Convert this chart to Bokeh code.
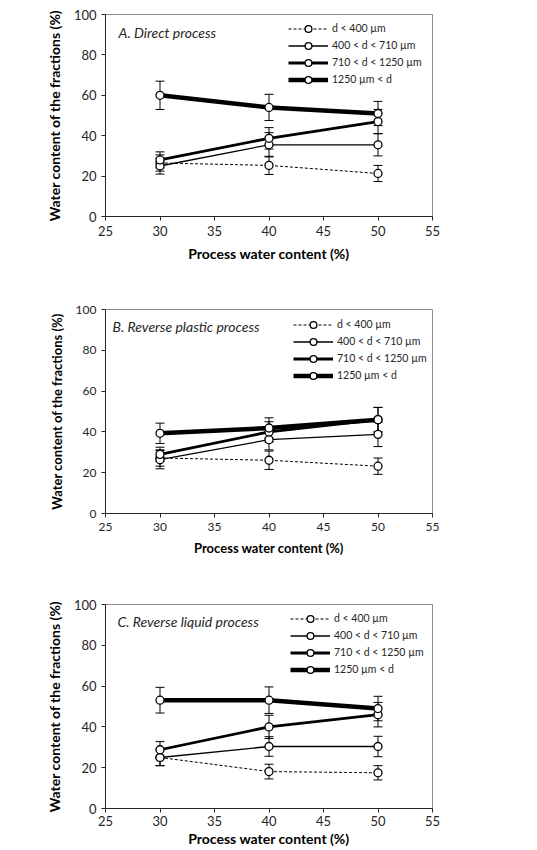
from bokeh.plotting import figure
from bokeh.layouts import column
from bokeh.models import (ColumnDataSource, Whisker, TeeHead, Legend, LegendItem,
                          Label, Range1d, FixedTicker)
from bokeh.embed import file_html
from bokeh.resources import INLINE

# Process water content (%) at which the three processes were run
process_water = [30, 40, 50]
x_ticks = [25, 30, 35, 40, 45, 50, 55]
y_ticks = [0, 20, 40, 60, 80, 100]

fraction_labels = ["d < 400 µm", "400 < d < 710 µm", "710 < d < 1250 µm", "1250 µm < d"]

# A. Direct process: mean water content of each size fraction (%) and its error
direct_d400 = [26.5, 25.3, 21.3]
direct_d400_err = [4.0, 4.5, 4.0]
direct_d400_710 = [25.0, 35.5, 35.5]
direct_d400_710_err = [4.0, 6.0, 5.5]
direct_d710_1250 = [28.0, 38.7, 47.0]
direct_d710_1250_err = [4.0, 5.3, 6.0]
direct_d1250 = [60.0, 54.0, 51.0]
direct_d1250_err = [7.0, 6.5, 6.0]

# B. Reverse plastic process
plastic_d400 = [27.2, 26.1, 23.2]
plastic_d400_err = [4.0, 4.5, 4.0]
plastic_d400_710 = [26.4, 36.2, 38.8]
plastic_d400_710_err = [4.5, 5.0, 6.0]
plastic_d710_1250 = [29.0, 40.0, 46.0]
plastic_d710_1250_err = [3.5, 5.0, 6.0]
plastic_d1250 = [39.3, 41.9, 46.0]
plastic_d1250_err = [5.0, 5.0, 6.0]

# C. Reverse liquid process
liquid_d400 = [25.0, 18.1, 17.5]
liquid_d400_err = [4.0, 3.6, 3.5]
liquid_d400_710 = [25.0, 30.4, 30.4]
liquid_d400_710_err = [4.0, 4.8, 5.0]
liquid_d710_1250 = [28.8, 40.0, 46.0]
liquid_d710_1250_err = [4.0, 5.7, 6.0]
liquid_d1250 = [53.1, 53.1, 49.0]
liquid_d1250_err = [6.3, 6.5, 6.0]

# line style per fraction: (width, dash)
line_styles = [(1.0, "3 2"), (1.3, "solid"), (2.8, "solid"), (4.5, "solid")]

FONT = "Lato"


def make_panel(title, series, height, top, bottom, tick_size, label_size,
               legend_x, legend_y, title_xy, x_standoffs=(5, 6)):
    p = figure(width=537, height=height, output_backend="svg", toolbar_location=None,
               x_range=Range1d(25, 55), y_range=Range1d(0, 100),
               min_border_left=105, min_border_right=105,
               min_border_top=top, min_border_bottom=bottom,
               background_fill_color="white", border_fill_color="white")
    p.grid.visible = False
    p.outline_line_color = "#8c8c8c"
    p.outline_line_width = 1

    for ax in (p.xaxis[0], p.yaxis[0]):
        ax.axis_line_color = "#262626"
        ax.major_tick_line_color = "#262626"
        ax.major_tick_out = 4
        ax.major_tick_in = 0
        ax.minor_tick_line_color = None
        ax.major_label_text_font = FONT
        ax.major_label_text_font_size = tick_size
        ax.major_label_text_color = "#262626"
        ax.axis_label_text_font = FONT
        ax.axis_label_text_font_style = "bold"
        ax.axis_label_text_font_size = label_size
        ax.axis_label_text_color = "black"
    p.xaxis.ticker = FixedTicker(ticks=x_ticks)
    p.yaxis.ticker = FixedTicker(ticks=y_ticks)
    p.xaxis.major_label_standoff = x_standoffs[0]
    p.yaxis.major_label_standoff = 5
    p.yaxis.axis_label = "Water content of the fractions (%)"
    p.yaxis.axis_label_standoff = 8
    p.xaxis.axis_label = "Process water content (%)"
    p.xaxis.axis_label_standoff = x_standoffs[1]

    items = []
    for label, (vals, errs), (lw, dash) in zip(fraction_labels, series, line_styles):
        src = ColumnDataSource(dict(
            x=process_water, y=vals,
            lower=[v - e for v, e in zip(vals, errs)],
            upper=[v + e for v, e in zip(vals, errs)]))
        w = Whisker(source=src, base="x", lower="lower", upper="upper",
                    line_color="black", line_width=1, level="underlay",
                    upper_head=TeeHead(size=9, line_color="black", line_width=1),
                    lower_head=TeeHead(size=9, line_color="black", line_width=1))
        p.add_layout(w)
        lr = p.line("x", "y", source=src, line_color="black", line_width=lw,
                    line_dash=dash)
        sr = p.scatter("x", "y", source=src, marker="circle", size=8,
                       fill_color="white", line_color="black", line_width=1.3)
        items.append(LegendItem(label=label, renderers=[lr, sr]))

    legend = Legend(items=items, location=(legend_x, legend_y),
                    border_line_color=None, background_fill_alpha=0,
                    padding=0, margin=0, spacing=0,
                    glyph_width=40, glyph_height=17, label_height=17,
                    label_standoff=4, label_text_font=FONT,
                    label_text_font_size="10.5px", label_text_color="#262626")
    p.add_layout(legend)

    p.add_layout(Label(x=title_xy[0], y=title_xy[1], text=title,
                       text_baseline="middle", text_font=FONT,
                       text_font_style="italic", text_font_size="14px",
                       text_color="#262626"))
    return p


panel_a = make_panel(
    "A. Direct process",
    [(direct_d400, direct_d400_err), (direct_d400_710, direct_d400_710_err),
     (direct_d710_1250, direct_d710_1250_err), (direct_d1250, direct_d1250_err)],
    height=280, top=14, bottom=64, tick_size="13px", label_size="14px",
    legend_x=183, legend_y=128.5, title_xy=(26.2, 91.1))

panel_b = make_panel(
    "B. Reverse plastic process",
    [(plastic_d400, plastic_d400_err), (plastic_d400_710, plastic_d400_710_err),
     (plastic_d710_1250, plastic_d710_1250_err), (plastic_d1250, plastic_d1250_err)],
    height=295, top=29, bottom=62, tick_size="12px", label_size="13px",
    legend_x=188, legend_y=129.5, title_xy=(25.65, 91.7))

panel_c = make_panel(
    "C. Reverse liquid process",
    [(liquid_d400, liquid_d400_err), (liquid_d400_710, liquid_d400_710_err),
     (liquid_d710_1250, liquid_d710_1250_err), (liquid_d1250, liquid_d1250_err)],
    height=275, top=29, bottom=42, tick_size="13px", label_size="14px",
    legend_x=185, legend_y=130.5, title_xy=(26.1, 91.7), x_standoffs=(3, 1))

layout = column(panel_a, panel_b, panel_c, spacing=0)

open("out.html", "w").write(file_html(layout, INLINE))
